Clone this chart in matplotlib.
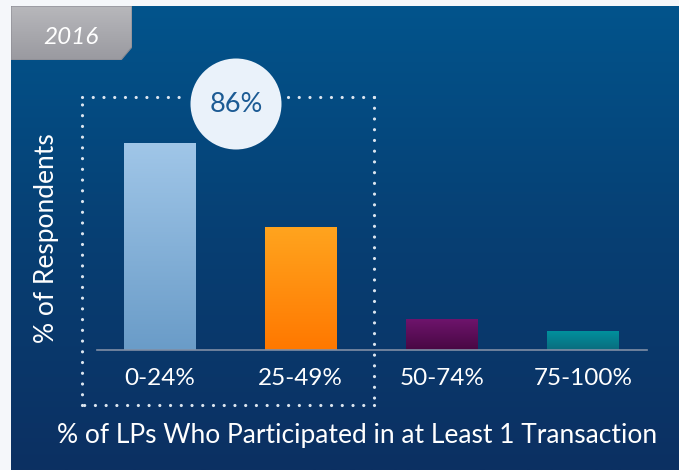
import numpy as np
import matplotlib
matplotlib.use("Agg")
import matplotlib.pyplot as plt
from matplotlib.patches import Circle, Polygon
from matplotlib.lines import Line2D
from matplotlib.colors import LinearSegmentedColormap

plt.rcParams['font.family'] = ['Lato', 'DejaVu Sans']

# data
categories = ['0-24%', '25-49%', '50-74%', '75-100%']
respondents = [54, 32, 8, 5]
bar_colors = [('#a0c6e8', '#6a9cc8'), ('#ffa41e', '#ff7800'),
              ('#6e146c', '#480843'), ('#00929e', '#0a6c7e')]
year_label = '2016'
highlight_label = '86%'
x_title = '% of LPs Who Participated in at Least 1 Transaction'
y_title = '% of Respondents'

W, H = 679, 470
fig = plt.figure(figsize=(W / 100, H / 100), dpi=100)
fig.patch.set_facecolor('#f5f7fa')


def fx(x):
    return x / W


def fy(y):
    return 1 - y / H


# background panel gradient
bg = fig.add_axes([fx(11), 0, fx(668), 1 - 6 / H])
bg_cmap = LinearSegmentedColormap.from_list('bg', ['#02548c', '#073f73', '#0c3062'])
bg.imshow(np.linspace(0, 1, 256).reshape(-1, 1), aspect='auto', cmap=bg_cmap,
          extent=(0, 1, 0, 1), origin='upper')
bg.set_axis_off()

# year tab
tab = fig.add_axes([fx(11), fy(60), fx(121), 54 / H])
tab_cmap = LinearSegmentedColormap.from_list('tab', ['#b8b8bc', '#9a9aa0'])
im = tab.imshow(np.linspace(0, 1, 64).reshape(-1, 1), aspect='auto', cmap=tab_cmap,
                extent=(0, 121, 0, 54), origin='upper')
poly = Polygon([(0, 0), (0, 54), (121, 54), (121, 13), (110, 0)], closed=True,
               facecolor='none', edgecolor='#8a8a92', lw=0.8)
tab.add_patch(poly)
im.set_clip_path(poly)
tab.set_xlim(0, 121)
tab.set_ylim(0, 54)
tab.set_axis_off()
tab.text(60, 22.5, year_label, ha='center', va='center', color='white',
         fontsize=17.5, style='italic')

# main chart axes
x_left, x_right, y_base, y_top = 97, 647, 350, 60
ax = fig.add_axes([fx(x_left), fy(y_base), fx(x_right - x_left), (y_base - y_top) / H])
ax.patch.set_alpha(0)
xs = np.arange(len(categories))
bars = ax.bar(xs, respondents, width=0.51, color='none', zorder=2)
grad = np.linspace(0, 1, 128).reshape(-1, 1)
for b, (c0, c1) in zip(bars, bar_colors):
    cm = LinearSegmentedColormap.from_list('b', [c0, c1])
    x0 = b.get_x()
    img = ax.imshow(grad, aspect='auto', cmap=cm, origin='upper', zorder=2,
                    extent=(x0, x0 + b.get_width(), 0, b.get_height()))
    img.set_clip_path(b)
ax.set_xlim(-0.443, 3.453)
ax.set_ylim(0, 54 * 290 / 207)
for s in ['top', 'right', 'left']:
    ax.spines[s].set_visible(False)
ax.spines['bottom'].set_color('#7f8ea6')
ax.spines['bottom'].set_linewidth(1.2)
ax.set_yticks([])
ax.set_xticks(xs)
ax.set_xticklabels(categories, color='white', fontsize=17.5)
ax.tick_params(axis='x', length=0, pad=13)

fig.text(fx(47), fy(238), y_title, rotation=90, ha='center', va='center',
         color='white', fontsize=19)

# dotted highlight box
dot_kw = dict(color='#dce6f0', lw=2.3, linestyle=(0, (0.01, 3.35)),
              dash_capstyle='round', transform=fig.transFigure)
L, R, T, B = 82, 374, 97, 405
segs = [((L, 183), (T, T)), ((288, R), (T, T)), ((R, R), (T, B)),
        ((R, L), (B, B)), ((L, L), (B, T))]
for (xa, xb), (ya, yb) in segs:
    fig.add_artist(Line2D([fx(xa), fx(xb)], [fy(ya), fy(yb)], **dot_kw))

# highlight circle
circ_ax = fig.add_axes([0, 0, 1, 1])
circ_ax.set_xlim(0, W)
circ_ax.set_ylim(H, 0)
circ_ax.set_axis_off()
circ_ax.add_patch(Circle((236, 104), 45.5, facecolor='#eaf2fa', edgecolor='none'))
circ_ax.text(236, 104, highlight_label, ha='center', va='center',
             color='#1c5b94', fontsize=19.5)

fig.text(fx(357), fy(435), x_title, ha='center', va='center', color='white',
         fontsize=19)

fig.savefig('out.png', dpi=100, facecolor=fig.get_facecolor())
